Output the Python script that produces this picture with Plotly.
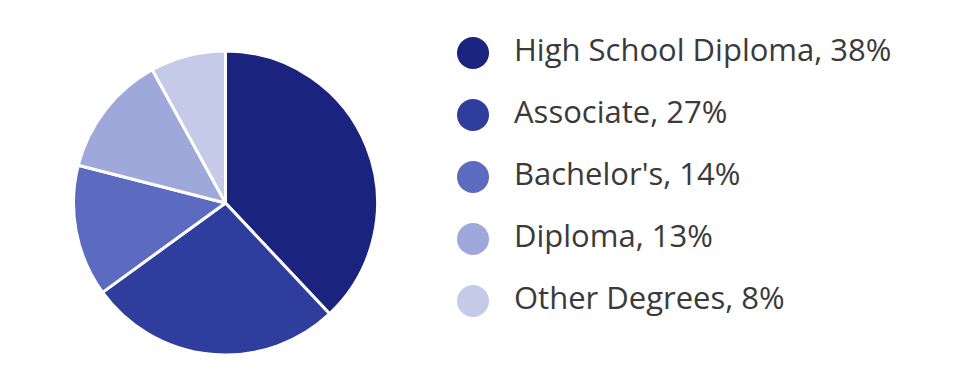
import plotly.graph_objects as go

categories = ["High School Diploma", "Associate", "Bachelor's", "Diploma", "Other Degrees"]
values = [38, 27, 14, 13, 8]
colors = ["#1a237e", "#2f3d9c", "#5c6bc0", "#9fa8da", "#c5cae9"]

W, H = 975, 392
labels = [f"{c}, {v}%" for c, v in zip(categories, values)]
idx = list(range(len(categories)))

fig = go.Figure()
fig.add_trace(go.Pie(
    labels=categories, values=values, sort=False, direction="clockwise", rotation=0,
    marker=dict(colors=colors, line=dict(color="white", width=3)),
    textinfo="none", hoverinfo="label+percent", showlegend=False,
    domain=dict(x=[73.5 / W, 377.5 / W], y=[(392 - 355) / H, (392 - 51) / H]),
))

# legend markers and text
fig.add_trace(go.Scatter(
    x=[473] * len(idx), y=idx, mode="markers",
    marker=dict(size=32, color=colors, line=dict(width=0)),
    showlegend=False, hoverinfo="skip",
))
fig.add_trace(go.Scatter(
    x=[514] * len(idx), y=idx, mode="text", text=labels, textposition="middle right",
    textfont=dict(family="Open Sans", size=31, color="#3a3a3a"),
    showlegend=False, hoverinfo="skip",
))

fig.update_layout(
    width=W, height=H, margin=dict(l=0, r=0, t=0, b=0),
    paper_bgcolor="white", plot_bgcolor="white",
    xaxis=dict(range=[0, W], visible=False, domain=[0, 1], fixedrange=True),
    yaxis=dict(range=[(H - 53) / 62, -53 / 62], visible=False, domain=[0, 1], fixedrange=True),
)

fig.write_html("out.html")
